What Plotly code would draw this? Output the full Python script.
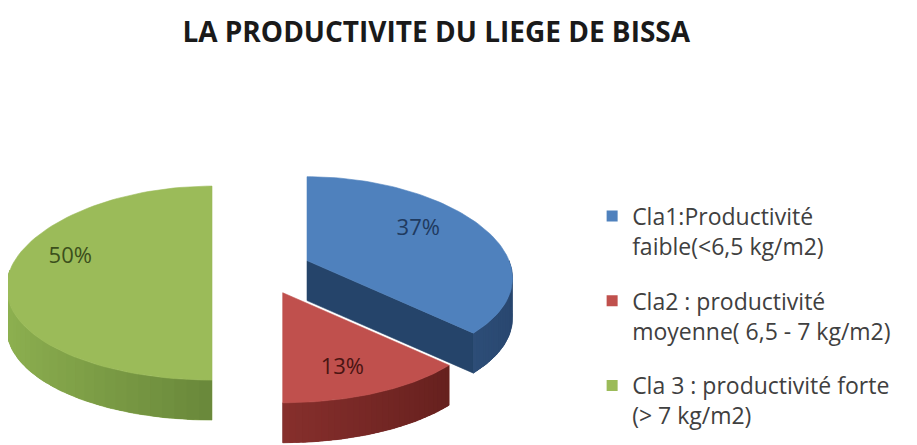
import math
import plotly.graph_objects as go

# ---- data ----
labels = ["Cla1:Productivité<br>faible(<6,5 kg/m2)",
          "Cla2 : productivité<br>moyenne( 6,5 - 7 kg/m2)",
          "Cla 3 : productivité forte<br>(> 7 kg/m2)"]
values = [37, 13, 50]

# ---- style ----
top_colors = ["#4F81BD", "#C0504D", "#9BBB59"]
side_light = ["#4C7AB2", "#B3433F", "#8FB251"]
side_dark = ["#28466E", "#5A1B19", "#435E24"]
cut_colors = ["#25446A", "#7A2826", "#6A8739"]
text_colors = ["#1F3A60", "#4A1412", "#3B4F1C"]
label_r = [0.68, 0.76, 0.73]
label_t = [30, -70, 170]
draw_order = [0, 2, 1]

# ---- 3D pie geometry (pixel-like coordinate system) ----
cx, cy = 262, 270
rx, ry = 202, 97
px_, py_ = 0.19, 0.135
depth = 40
explode = 50
page_off = 8  # page body margin

fig = go.Figure()
total = sum(values)
cum = [0]
for v in values:
    cum.append(cum[-1] + v)


def proj(ax, ay, tdeg, r=1.0, dz=0.0):
    t = math.radians(tdeg)
    s = math.sin(t)
    x = ax + r * rx * math.cos(t) * (1 - px_ * r * s)
    y = ay - r * ry * s * (1 - py_ * r * s) + dz
    return x, y


def arc(ax, ay, t0, t1, n=80, dz=0.0):
    return [proj(ax, ay, t0 + (t1 - t0) * k / n, 1.0, dz) for k in range(n + 1)]


def mix(h1, h2, f):
    a = [int(h1[i:i + 2], 16) for i in (1, 3, 5)]
    b = [int(h2[i:i + 2], 16) for i in (1, 3, 5)]
    return "#%02x%02x%02x" % tuple(round(a[j] + (b[j] - a[j]) * f) for j in range(3))


def poly(pts, color, lw=0.6, **kw):
    xs = [p[0] for p in pts] + [pts[0][0]]
    ys = [p[1] for p in pts] + [pts[0][1]]
    fig.add_trace(go.Scatter(x=xs, y=ys, mode="lines", fill="toself",
                             fillcolor=color, line=dict(color=color, width=lw),
                             hoverinfo="skip", showlegend=False, **kw))


for i in draw_order:
    a0 = 90 - 360 * cum[i] / total
    a1 = 90 - 360 * cum[i + 1] / total
    am = (a0 + a1) / 2
    ax, ay = proj(cx, cy, am, explode / rx)

    # visible cut faces
    for a, vis in ((a0, math.cos(math.radians(a0)) < -1e-6),
                   (a1, math.cos(math.radians(a1)) > 1e-6)):
        if vis:
            ex, ey = proj(ax, ay, a)
            poly([(ax, ay), (ex, ey), (ex, ey + depth), (ax, ay + depth)],
                 cut_colors[i])

    # outer side wall (front half only), shaded in strips
    for k in (-1, 0, 1):
        lo = max(a1, -180 + 360 * k)
        hi = min(a0, 0 + 360 * k)
        if hi > lo:
            fmid = (math.cos(math.radians((lo + hi) / 2)) + 1) / 2
            poly(arc(ax, ay, hi, lo, 60) + arc(ax, ay, lo, hi, 60, depth),
                 mix(side_light[i], side_dark[i], fmid))
            nstrip = 30
            step = (hi - lo) / nstrip
            for s in range(nstrip):
                t0 = lo + step * s
                t1 = min(hi, t0 + step * 1.6)
                f = (math.cos(math.radians(t0 + step / 2)) + 1) / 2
                col = mix(side_light[i], side_dark[i], f)
                poly(arc(ax, ay, t0, t1, 4) + arc(ax, ay, t1, t0, 4, depth),
                     col, lw=0)

    # top face
    pts = [(ax, ay)] + arc(ax, ay, a0, a1)
    poly(pts, top_colors[i])

    # percentage label
    lx, ly = proj(ax, ay, label_t[i], label_r[i])
    fig.add_trace(go.Scatter(x=[lx], y=[ly], mode="text",
                             text=[f"{values[i] / total * 100:.0f}%"],
                             textfont=dict(size=22, color=text_colors[i],
                                           family="Open Sans"),
                             hoverinfo="skip", showlegend=False))

# legend entries
for i in range(len(values)):
    fig.add_trace(go.Scatter(x=[None], y=[None], mode="markers",
                             marker=dict(symbol="square", size=11,
                                         color=top_colors[i]),
                             name=labels[i], legendgroup=f"g{i}",
                             showlegend=True, hoverinfo="skip"))

W, H = 917, 445
fig.update_layout(
    width=W, height=H,
    margin=dict(l=0, r=0, t=0, b=0),
    paper_bgcolor="white", plot_bgcolor="white",
    xaxis=dict(range=[page_off, W + page_off], visible=False, fixedrange=True),
    yaxis=dict(range=[H + page_off, page_off], visible=False, fixedrange=True),
    title=dict(text="<b>LA PRODUCTIVITE DU LIEGE DE BISSA</b>",
               x=0.467, xanchor="center", y=0.946, yanchor="middle",
               font=dict(size=28, color="#1a1a1a", family="Open Sans")),
    legend=dict(x=0.637, y=0.581, xanchor="left", yanchor="top",
                valign="top",
                font=dict(size=23, color="#404040", family="Open Sans"),
                tracegroupgap=22, itemwidth=30, bgcolor="rgba(0,0,0,0)"),
    showlegend=True,
)

fig.write_html("out.html")
